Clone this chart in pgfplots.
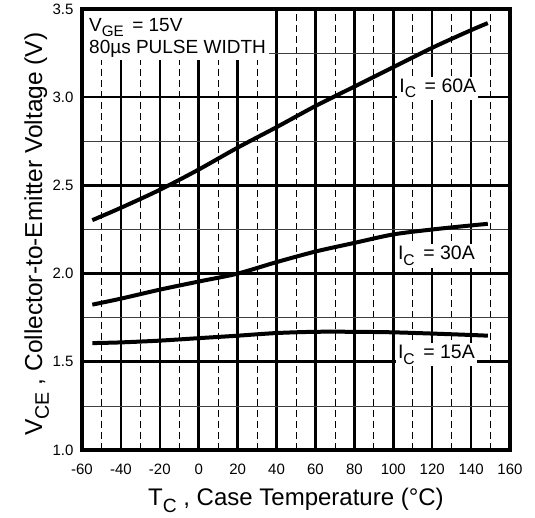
\documentclass[border=0pt]{standalone}
\usepackage{fontspec}
\setmainfont{Liberation Sans}
\usepackage{pgfplots}
\pgfplotsset{compat=1.18}
\newcommand\sub[1]{\raisebox{-0.28em}{\scalebox{0.8}{#1}}}
\begin{document}
\begin{tikzpicture}
\begin{axis}[
  at={(0pt,0pt)}, anchor=south west,
  scale only axis, width=428pt, height=441pt,
  xmin=-60, xmax=160, ymin=1, ymax=3.5,
  xtick={-60,-40,-20,0,20,40,60,80,100,120,140,160},
  ytick={1,1.5,2,2.5,3,3.5},
  xticklabels={-60,-40,-20,0,20,40,60,80,100,120,140,160},
  yticklabels={1.0,1.5,2.0,2.5,3.0,3.5},
  minor x tick num=1, minor y tick num=1,
  major tick length=0pt, minor tick length=0pt,
  grid=both,
  major grid style={black, line width=2.6pt},
  minor x grid style={black, line width=0.7pt, dash pattern=on 7pt off 4pt},
  minor y grid style={black!75, line width=0.7pt},
  axis line style={line width=3.8pt},
  tick label style={font=\fontsize{15}{18}\selectfont},
  xticklabel style={yshift=-10pt},
  yticklabel style={xshift=-5pt},
  clip=false,
]
\addplot[black, line width=4pt, smooth, line cap=butt] coordinates {
  (-54.7,2.303) (-40,2.373) (-20,2.475) (0,2.59) (20,2.714) (40,2.83) (60,2.95)
  (80,3.06) (100,3.17) (120,3.28) (140,3.38) (148.6,3.42)};
\addplot[black, line width=4pt, smooth, line cap=butt] coordinates {
  (-54.7,1.824) (-40,1.858) (-20,1.909) (0,1.955) (20,2.0) (40,2.065) (60,2.125)
  (80,2.174) (100,2.222) (120,2.25) (140,2.273) (148.6,2.282)};
\addplot[black, line width=4pt, smooth, line cap=butt] coordinates {
  (-54.7,1.606) (-40,1.61) (-20,1.62) (0,1.634) (20,1.648) (40,1.663) (60,1.67)
  (80,1.67) (100,1.667) (120,1.66) (140,1.652) (148.6,1.648)};
\fill[white] ([xshift=2pt]axis cs:-60,3.21) rectangle ([yshift=-2pt]axis cs:36,3.5);
\node[anchor=base west, inner sep=0pt, font=\fontsize{19}{22}\selectfont]
  at (axis cs:-56.4,3.372) {V\sub{GE}\, = 15V};
\node[anchor=base west, inner sep=0pt, font=\fontsize{19}{22}\selectfont]
  at (axis cs:-56.4,3.245) {80µs PULSE WIDTH};
\node[anchor=west, fill=white, inner sep=2pt, font=\fontsize{19.5}{22}\selectfont]
  at (axis cs:102,3.05) {I\sub{C}\, = 60A};
\node[anchor=west, fill=white, inner sep=2pt, font=\fontsize{19.5}{22}\selectfont]
  at (axis cs:101.3,2.10) {I\sub{C}\, = 30A};
\node[anchor=west, fill=white, inner sep=2pt, font=\fontsize{19.5}{22}\selectfont]
  at (axis cs:101.3,1.54) {I\sub{C}\, = 15A};
\end{axis}
\node[anchor=base, font=\fontsize{24}{27}\selectfont] at (214pt,-56pt)
  {T\sub{C} , Case Temperature (°C)};
\node[anchor=base, rotate=90, font=\fontsize{24.5}{27}\selectfont] at (-40pt,216pt)
  {V\sub{CE} , Collector-to-Emitter Voltage (V)};
\path (-82pt,-68pt) rectangle (453pt,450pt);
\end{tikzpicture}
\end{document}
